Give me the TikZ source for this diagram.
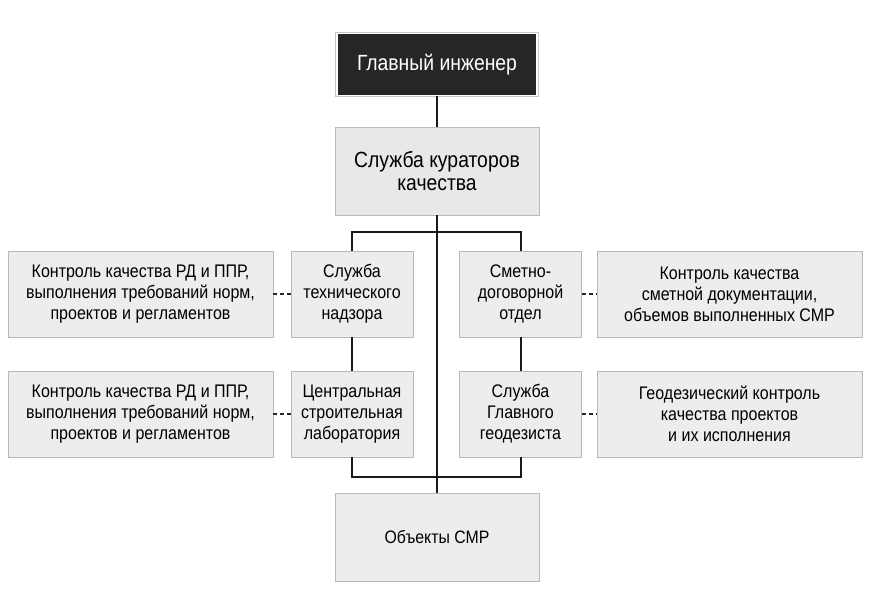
\documentclass[tikz,border=0pt]{standalone}
\usepackage{fontspec}
\setmainfont[FakeStretch=0.88]{Liberation Sans}
\usetikzlibrary{positioning}

\tikzset{
  box/.style={rectangle, draw=gray!55, fill=gray!14, line width=0.8pt, align=center,
    inner sep=2pt, text=black, font={\fontsize{18.2}{21}\selectfont}},
  wide/.style={box, minimum width=265pt, minimum height=86pt},
  narrow/.style={box, minimum width=122pt, minimum height=86pt},
  big/.style={box, minimum width=204pt, minimum height=88pt, font={\fontsize{22}{23.5}\selectfont}},
  chiefbox/.style={rectangle, fill=black!85, draw=white, line width=1.6pt,
    preaction={draw=gray!45, line width=3.2pt}, text=white, minimum width=200pt,
    minimum height=62pt, font={\fontsize{22}{23.5}\selectfont}},
  link/.style={line width=2pt, black!90},
  dashlink/.style={line width=1.6pt, black!85, dash pattern=on 4pt off 3pt}
}

\begin{document}
\begin{tikzpicture}[x=1pt, y=-1pt]
            \useasboundingbox[fill=white] (0,0) rectangle (870,612);

            % Nodes
            \node[chiefbox] (chief) at (437, 64.5) {Главный инженер};
            \node[big, fill=gray!18] (curators) at (437, 171) {Служба кураторов\\качества};

            \node[wide] (ctrlA) at (140.5, 294) {Контроль качества РД и ППР,\\выполнения требований норм,\\проектов и регламентов};
            \node[narrow] (tech) at (352, 294) {Служба\\технического\\надзора};
            \node[narrow] (estimate) at (520.5, 294) {Сметно-\\договорной\\отдел};
            \node[wide] (ctrlB) at (729.5, 294) {Контроль качества\\сметной документации,\\объемов выполненных СМР};

            \node[wide] (ctrlC) at (140.5, 414) {Контроль качества РД и ППР,\\выполнения требований норм,\\проектов и регламентов};
            \node[narrow] (lab) at (352, 414) {Центральная\\строительная\\лаборатория};
            \node[narrow] (geodesy) at (520.5, 414) {Служба\\Главного\\геодезиста};
            \node[wide] (geocontrol) at (729.5, 414) {Геодезический контроль\\качества проектов\\и их исполнения};

            \node[big] (objects) at (437, 537) {\fontsize{18}{21}\selectfont Объекты СМР};

            % Edges
            \draw[link] (chief) -- (curators);
            \draw[link] (curators.south) -- (objects.north);
            \draw[link] (tech.north) |- ([yshift=-17pt]curators.south) -| (estimate.north);
            \draw[link] (tech) -- (lab);
            \draw[link] (estimate) -- (geodesy);
            \draw[link] (lab.south) |- ([yshift=16pt]objects.north) -| (geodesy.south);

            \draw[dashlink] (ctrlA) -- (tech);
            \draw[dashlink] (estimate) -- (ctrlB);
            \draw[dashlink] (ctrlC) -- (lab);
            \draw[dashlink] (geodesy) -- (geocontrol);

        \end{tikzpicture}
\end{document}
